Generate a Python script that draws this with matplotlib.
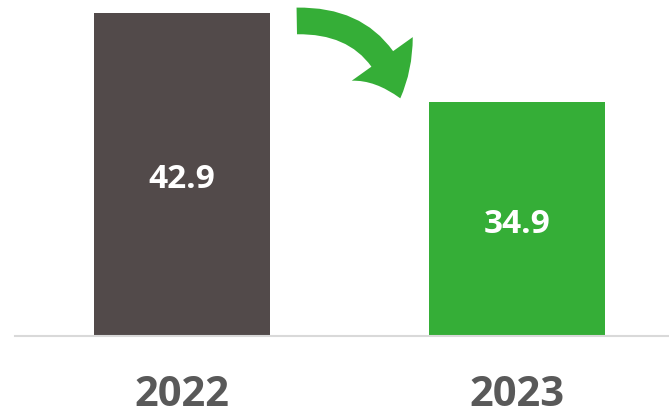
import matplotlib.pyplot as plt
from matplotlib.patches import FancyArrowPatch

# data
years = ['2022', '2023']
values = [42.9, 34.9]
bar_colors = ['#524a4a', '#35ae37']

W, H = 669, 417
fig = plt.figure(figsize=(W / 100, H / 100), dpi=100)

# axes spans from baseline (y=336px) to top, x from 15px to right edge
ax = fig.add_axes([15 / W, 1 - 336 / H, 1 - 15 / W, 336 / H])
x = [0, 1]
ax.bar(x, values, width=0.525, color=bar_colors, zorder=2)
ax.set_xlim(-0.4985, 1.4537)
ax.set_ylim(13.87, 44.07)

for s in ['top', 'right', 'left']:
    ax.spines[s].set_visible(False)
ax.spines['bottom'].set_color('#d9d9d9')
ax.spines['bottom'].set_linewidth(1.5)
ax.set_yticks([])
ax.set_xticks([])

# value labels inside bars
for xi, v in zip(x, values):
    ax.text(xi, (13.87 + v) / 2 - 0.45, f'{v}', ha='center', va='center',
            color='white', fontsize=24, fontweight='bold', family='Open Sans')

# year labels along the bottom edge
for xi, y in zip(x, years):
    fx = ax.transData.transform((xi, 0))[0] / W
    fig.text(fx, 0.002, y, ha='center', va='bottom',
             color='#595959', fontsize=30, fontweight='bold',
             family=['Liberation Sans Narrow', 'Open Sans'])

# curved arrow between bars
arrow = FancyArrowPatch((294 / W, 1 - 21 / H), (401 / W, 1 - 101 / H),
                        transform=fig.transFigure,
                        connectionstyle='arc3,rad=-0.4',
                        arrowstyle='simple,head_width=4.5,head_length=2.6,tail_width=1.6',
                        mutation_scale=12, color='#35ae37', lw=0)
fig.patches.append(arrow)

fig.savefig('out.png', dpi=100)
